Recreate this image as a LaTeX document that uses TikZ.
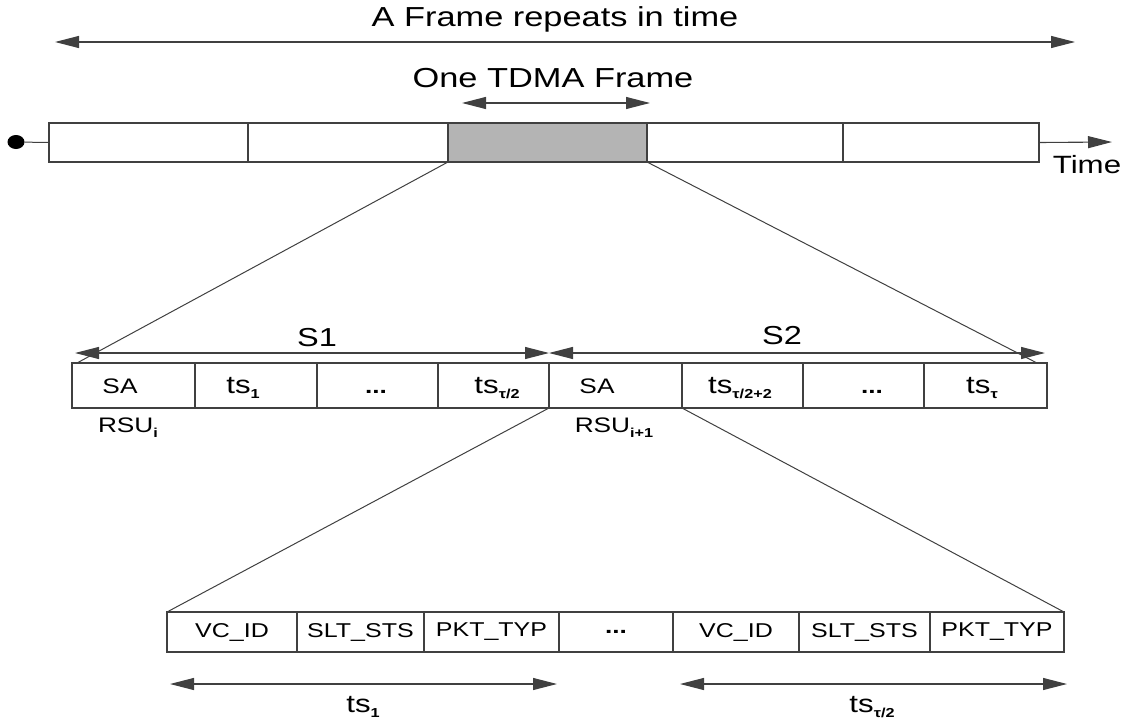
\documentclass[tikz,border=0pt]{standalone}
\usepackage{fontspec}
\setmainfont{Liberation Sans}[FakeStretch=1.25]
\usetikzlibrary{arrows.meta,shapes.geometric}
\definecolor{ln}{HTML}{404040}
\definecolor{gfill}{HTML}{B4B4B4}
\newcommand{\sbs}[1]{\raisebox{-5pt}{\fontsize{13}{13}\selectfont\bfseries #1}}
\newcommand{\fsz}[1]{\fontsize{#1}{#1}\selectfont}
\tikzset{
  tip/.tip={Triangle[length=24pt,width=12pt]},
  cell/.style={draw=ln, line width=1.3pt, inner sep=0pt, outer sep=0pt, anchor=north west, fill=white},
  txt/.style={inner sep=0pt, anchor=base, text=black},
  dbl/.style={draw=ln, line width=1.1pt, arrows={tip-tip}},
  sgl/.style={draw=ln, line width=1.1pt, arrows={-tip}},
  conn/.style={draw=ln, line width=1pt}
}
\begin{document}
\begin{tikzpicture}[x=1pt,y=-1pt]
\useasboundingbox (0,0) rectangle (1133,725);
% titles
\node[txt] (title) at (555,27) {\fsz{27.5}A Frame repeats in time};
\coordinate (ta) at (55,42);
\coordinate (tb) at (1075,42);
\draw[dbl] (ta) -- (tb);
\node[txt] (tdma) at (553,88) {\fsz{27.5}One TDMA Frame};
\coordinate (fa) at (462,103);
\coordinate (fb) at (650,103);
\draw[dbl] (fa) -- (fb);
% top bar
\node[cell, minimum width=199, minimum height=39] (t1) at (49,123) {};
\node[cell, minimum width=200, minimum height=39] (t2) at (248,123) {};
\node[cell, minimum width=199, minimum height=39, fill=gfill] (t3) at (448,123) {};
\node[cell, minimum width=196, minimum height=39] (t4) at (647,123) {};
\node[cell, minimum width=196, minimum height=39] (t5) at (843,123) {};
\node[ellipse, fill=black, inner sep=0pt, minimum width=17pt, minimum height=14pt] (dot) at (16,142) {};
\draw[conn] (dot) -- (t1.west);
\coordinate (tend) at (1112,142);
\draw[sgl] (t5.east) -- (tend);
\node[txt] (time) at (1087,173) {\fsz{25}Time};
% middle row
\node[cell, minimum width=123, minimum height=45] (m1) at (72,363) {};
\node[cell, minimum width=122, minimum height=45] (m2) at (195,363) {};
\node[cell, minimum width=121, minimum height=45] (m3) at (317,363) {};
\node[cell, minimum width=111, minimum height=45] (m4) at (438,363) {};
\node[cell, minimum width=133, minimum height=45] (m5) at (549,363) {};
\node[cell, minimum width=121, minimum height=45] (m6) at (682,363) {};
\node[cell, minimum width=121, minimum height=45] (m7) at (803,363) {};
\node[cell, minimum width=123, minimum height=45] (m8) at (924,363) {};
\node[txt] (sa1) at (120,393) {\fsz{21}SA};
\node[txt] (ts1) at (243,393) {\fsz{25}ts\sbs{1}};
\node[txt] (d1) at (376,393) {\fsz{21}\bfseries...};
\node[txt] (tsh) at (497,393) {\fsz{25}ts\sbs{τ/2}};
\node[txt] (sa2) at (597,393) {\fsz{21}SA};
\node[txt] (tsh2) at (740,393) {\fsz{25}ts\sbs{τ/2+2}};
\node[txt] (d2) at (872,393) {\fsz{21}\bfseries...};
\node[txt] (tst) at (982,393) {\fsz{25}ts\sbs{τ}};
\node[txt] (rsu1) at (128,432) {\fsz{21}RSU\sbs{i}};
\node[txt] (rsu2) at (614,432) {\fsz{21}RSU\sbs{i+1}};
% S arrows
\draw[dbl] (m1.north west) ++(3,-10) coordinate (s1a) -- (m4.north east |- s1a) coordinate (s1b);
\draw[dbl] (m5.north west |- s1a) coordinate (s2a) -- ([xshift=-2pt]m8.north east |- s1a);
\node[txt] (S1) at (317,346) {\fsz{26}S1};
\node[txt] (S2) at (782,344) {\fsz{26}S2};
% zoom lines top
\draw[conn] (t3.south west) -- ([xshift=5pt]m1.north west);
\draw[conn] (t3.south east) -- ([xshift=-10pt]m8.north east);
% bottom row
\node[cell, minimum width=130, minimum height=40] (b1) at (167,612) {\fsz{20}VC\_ID};
\node[cell, minimum width=127, minimum height=40] (b2) at (297,612) {\fsz{20}SLT\_STS};
\node[cell, minimum width=135, minimum height=40] (b3) at (424,612) {\fsz{20}PKT\_TYP};
\node[cell, minimum width=114, minimum height=40] (b4) at (559,612) {\fsz{21}\bfseries...};
\node[cell, minimum width=126, minimum height=40] (b5) at (673,612) {\fsz{20}VC\_ID};
\node[cell, minimum width=131, minimum height=40] (b6) at (799,612) {\fsz{20}SLT\_STS};
\node[cell, minimum width=134, minimum height=40] (b7) at (930,612) {\fsz{20}PKT\_TYP};
\draw[conn] (m5.south west) -- (b1.north west);
\draw[conn] (m6.south west) -- (b7.north east);
% bottom arrows
\coordinate (ba) at (170,684);
\coordinate (bb) at (557,684);
\coordinate (bc) at (680,684);
\coordinate (bd) at (1067,684);
\draw[dbl] (ba) -- (bb);
\draw[dbl] (bc) -- (bd);
\node[txt] (bts1) at (363,712) {\fsz{25}ts\sbs{1}};
\node[txt] (bts2) at (872,712) {\fsz{25}ts\sbs{τ/2}};
\end{tikzpicture}
\end{document}
